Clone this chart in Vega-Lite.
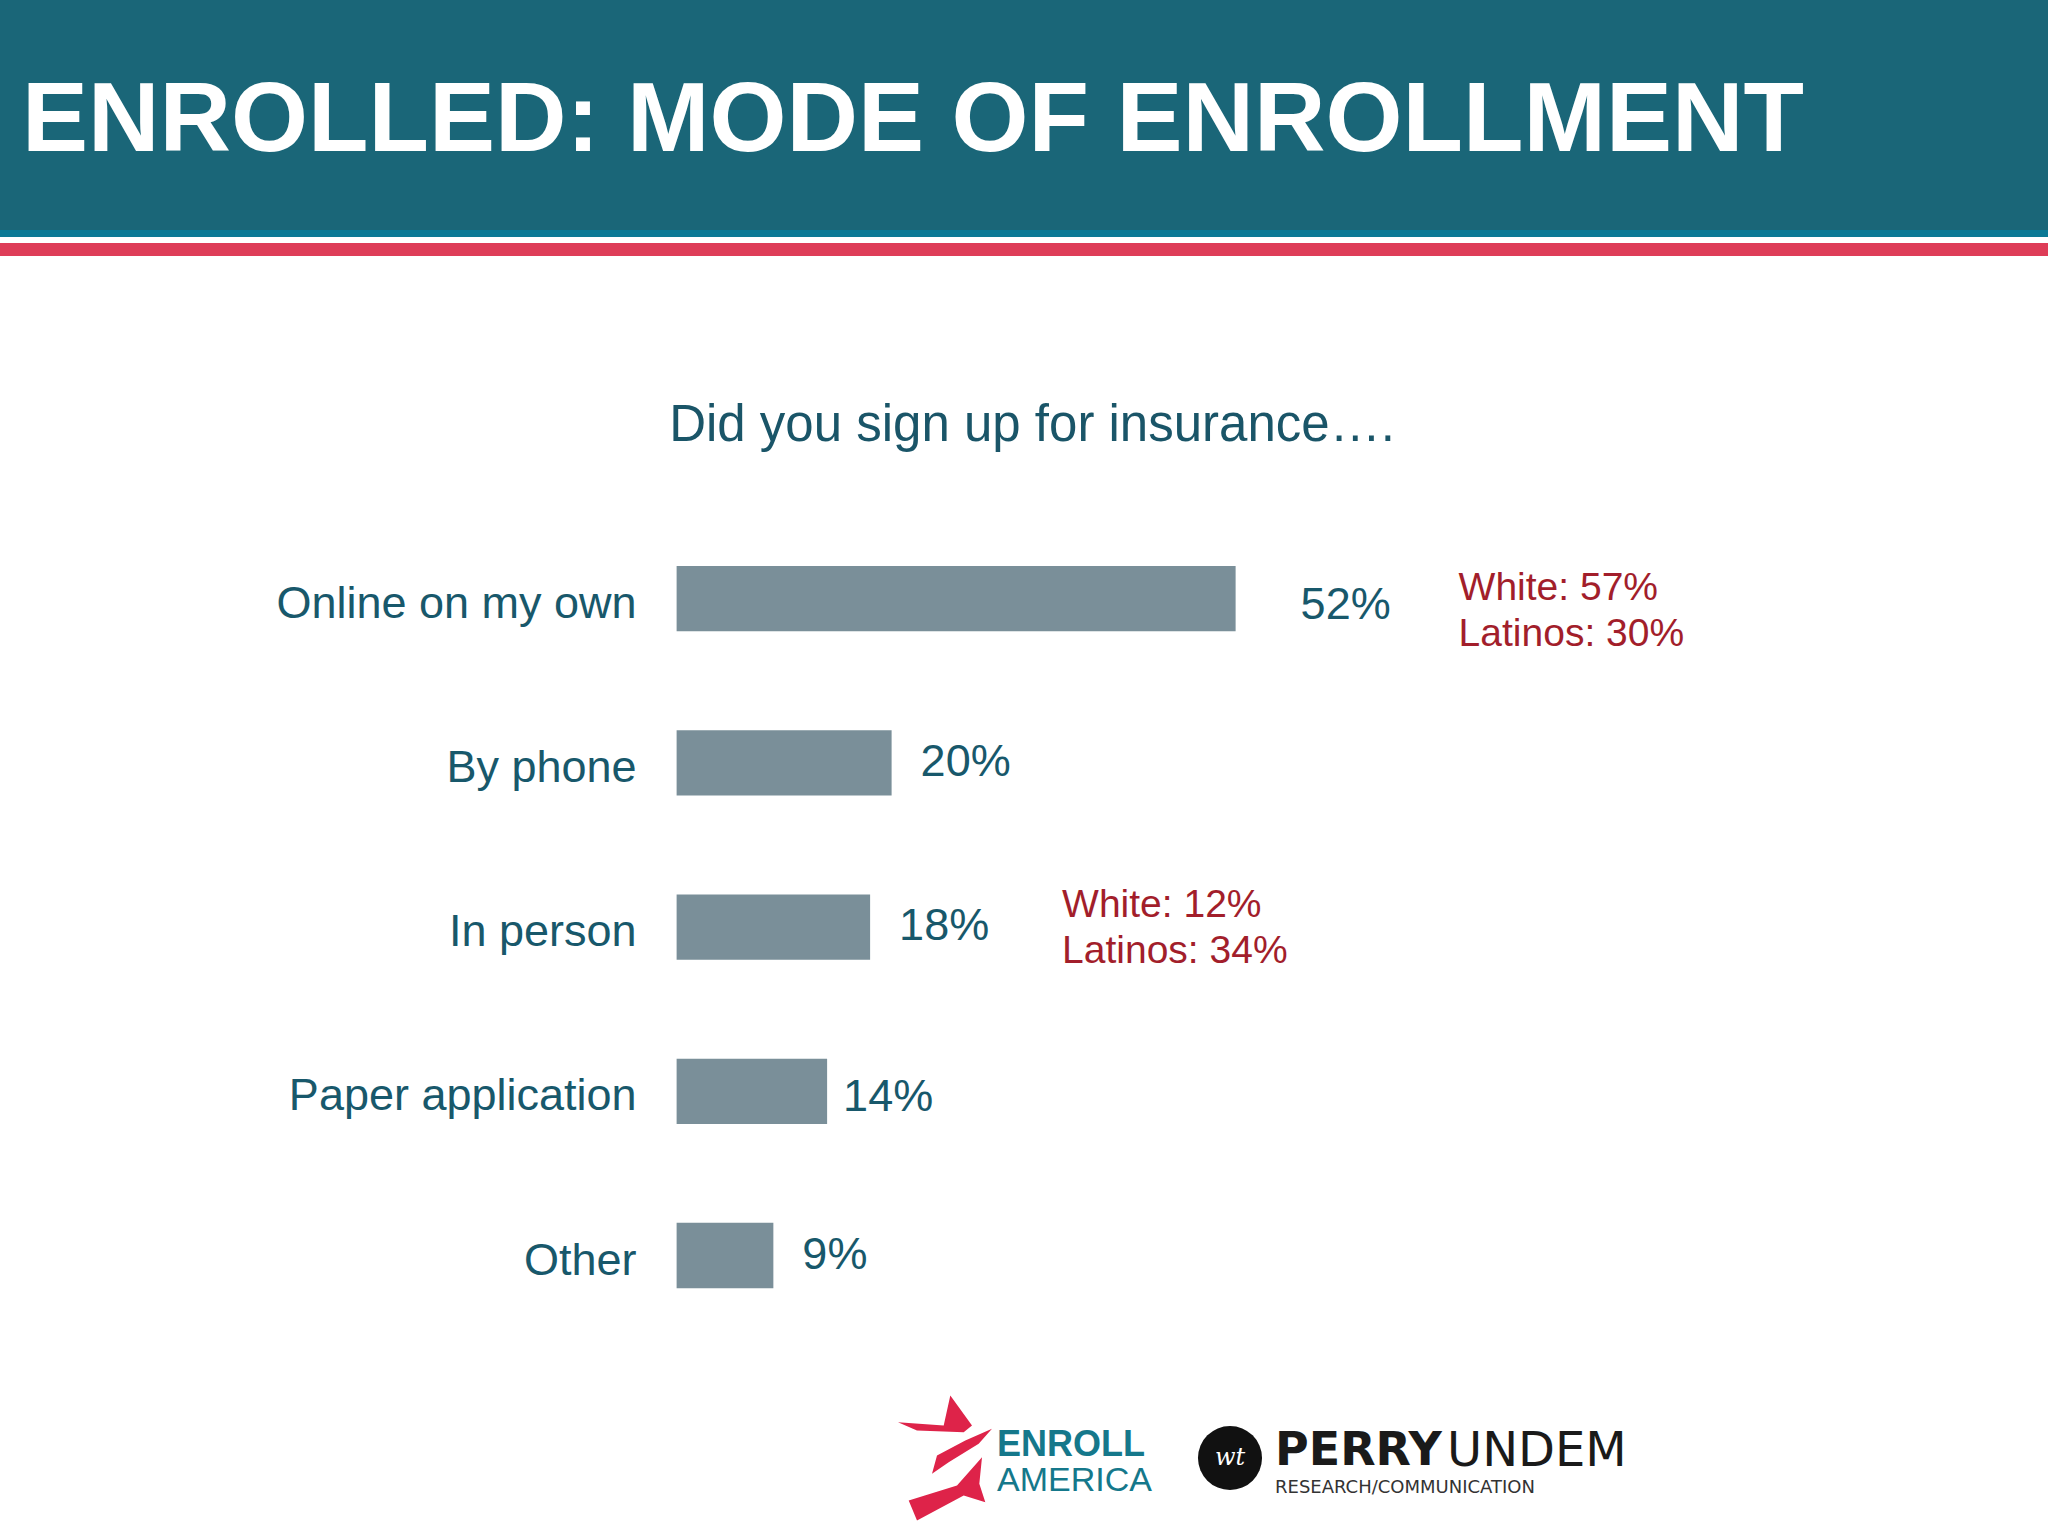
{
  "$schema": "https://vega.github.io/schema/vega-lite/v6.json",
  "background": "white",
  "padding": 0,
  "autosize": {"type": "pad"},
  "spacing": 0,
  "bounds": "flush",
  "config": {
    "view": {"stroke": null},
    "axis": {"disable": true},
    "font": "Liberation Sans"
  },
  "datasets": {
    "enroll": [
      {"cat": "Online on my own", "pct": 0.52, "note": "White: 57%\nLatinos: 30%"},
      {"cat": "By phone", "pct": 0.20, "note": ""},
      {"cat": "In person", "pct": 0.18, "note": "White: 12%\nLatinos: 34%"},
      {"cat": "Paper application", "pct": 0.14, "note": ""},
      {"cat": "Other", "pct": 0.09, "note": ""}
    ],
    "blank": [{}]
  },
  "vconcat": [
    {
      "width": 2048, "height": 230,
      "view": {"fill": "#1a6678"},
      "data": {"name": "blank"},
      "mark": {"type": "point", "opacity": 0},
      "encoding": {}
    },
    {
      "width": 2048, "height": 7,
      "view": {"fill": "#0b7995"},
      "title": {"text": "ENROLLED: MODE OF ENROLLMENT", "orient": "top", "anchor": "start", "frame": "group", "offset": 58, "dx": 22, "fontSize": 99, "font": "Liberation Sans", "fontWeight": "bold", "color": "#ffffff"},
      "data": {"name": "blank"},
      "mark": {"type": "point", "opacity": 0},
      "encoding": {}
    },
    {
      "width": 2048, "height": 6,
      "view": {"fill": "#ffffff"},
      "data": {"name": "blank"},
      "mark": {"type": "point", "opacity": 0},
      "encoding": {}
    },
    {
      "width": 2048, "height": 13,
      "view": {"fill": "#de3d58"},
      "data": {"name": "blank"},
      "mark": {"type": "point", "opacity": 0},
      "encoding": {}
    },
    {
      "width": 2048, "height": 309.5,
      "view": {"fill": "#ffffff"},
      "data": {"name": "blank"},
      "mark": {"type": "point", "opacity": 0},
      "encoding": {}
    },
    {
      "width": 2048, "height": 722.2,
      "title": {"text": "Did you sign up for insurance….", "orient": "top", "anchor": "middle", "frame": "group", "offset": 114.5, "dx": 8, "fontSize": 51, "font": "Liberation Sans", "fontWeight": "normal", "color": "#1a5568"},
      "data": {"name": "enroll"},
      "layer": [
        {
          "mark": {"type": "bar", "color": "#7a8f99"},
          "encoding": {
            "x": {"field": "pct", "type": "quantitative", "axis": null, "scale": {"domain": [-0.6294, 1.2757], "zero": false, "nice": false}},
            "x2": {"datum": 0},
            "y": {"field": "cat", "type": "nominal", "sort": null, "axis": null, "scale": {"paddingInner": 0.602, "paddingOuter": 0}}
          }
        },
        {
          "mark": {"type": "text", "align": "right", "baseline": "middle", "dx": -40, "dy": 5, "fontSize": 45, "font": "Liberation Sans", "color": "#18586b"},
          "encoding": {
            "x": {"datum": 0},
            "y": {"field": "cat", "type": "nominal", "sort": null, "axis": null},
            "text": {"field": "cat"}
          }
        },
        {
          "transform": [{"filter": "datum.cat === 'Online on my own'"}],
          "mark": {"type": "text", "align": "left", "baseline": "middle", "dx": 65, "dy": 6, "fontSize": 45, "font": "Liberation Sans", "color": "#18586b"},
          "encoding": {
            "x": {"field": "pct", "type": "quantitative"},
            "y": {"field": "cat", "type": "nominal", "sort": null, "axis": null},
            "text": {"field": "pct", "format": ".0%"}
          }
        },
        {
          "transform": [{"filter": "datum.cat === 'Paper application'"}],
          "mark": {"type": "text", "align": "left", "baseline": "middle", "dx": 16, "dy": 6, "fontSize": 45, "font": "Liberation Sans", "color": "#18586b"},
          "encoding": {
            "x": {"field": "pct", "type": "quantitative"},
            "y": {"field": "cat", "type": "nominal", "sort": null, "axis": null},
            "text": {"field": "pct", "format": ".0%"}
          }
        },
        {
          "transform": [{"filter": "datum.cat !== 'Online on my own' && datum.cat !== 'Paper application'"}],
          "mark": {"type": "text", "align": "left", "baseline": "middle", "dx": 29, "dy": -1, "fontSize": 45, "font": "Liberation Sans", "color": "#18586b"},
          "encoding": {
            "x": {"field": "pct", "type": "quantitative"},
            "y": {"field": "cat", "type": "nominal", "sort": null, "axis": null},
            "text": {"field": "pct", "format": ".0%"}
          }
        },
        {
          "transform": [{"filter": "datum.cat === 'Online on my own'"}],
          "mark": {"type": "text", "align": "left", "baseline": "middle", "lineBreak": "\n", "lineHeight": 46, "dx": 223, "dy": -11, "fontSize": 39, "font": "Liberation Sans", "color": "#a21e2b"},
          "encoding": {
            "x": {"field": "pct", "type": "quantitative"},
            "y": {"field": "cat", "type": "nominal", "sort": null, "axis": null},
            "text": {"field": "note"}
          }
        },
        {
          "transform": [{"filter": "datum.cat === 'In person'"}],
          "mark": {"type": "text", "align": "left", "baseline": "middle", "lineBreak": "\n", "lineHeight": 46, "dx": 192, "dy": -22, "fontSize": 39, "font": "Liberation Sans", "color": "#a21e2b"},
          "encoding": {
            "x": {"field": "pct", "type": "quantitative"},
            "y": {"field": "cat", "type": "nominal", "sort": null, "axis": null},
            "text": {"field": "note"}
          }
        }
      ]
    },
    {
      "width": 2048, "height": 103.8,
      "view": {"fill": "#ffffff"},
      "data": {"name": "blank"},
      "mark": {"type": "point", "opacity": 0},
      "encoding": {}
    },
    {
      "spacing": 0,
      "bounds": "flush",
      "hconcat": [
        {
          "width": 895, "height": 130,
          "data": {"name": "blank"},
          "mark": {"type": "point", "opacity": 0},
          "encoding": {}
        },
        {
          "width": 100, "height": 130,
          "data": {"name": "blank"},
          "mark": {"type": "point", "filled": true, "opacity": 1, "color": "#de2349", "size": 15625, "shape": "M -0.752 -0.573 L -0.021 -0.52 L 0.085 -1 L 0.432 -0.52 L 0.299 -0.413 L -0.448 -0.44 Z M 0.752 -0.467 L 0.539 -0.227 L 0.059 0.067 L -0.208 0.253 L -0.128 -0.04 L 0.325 -0.28 Z M -0.581 0.68 L 0.192 0.44 L 0.592 -0.013 L 0.549 0.413 L 0.645 0.707 L 0.299 0.6 L -0.448 1 Z"},
          "encoding": {}
        },
        {
          "width": 190, "height": 130,
          "title": {"text": "ENROLL", "subtitle": "AMERICA", "orient": "top", "anchor": "start", "frame": "group", "offset": -106, "dx": 2, "fontSize": 36, "font": "Liberation Sans", "fontWeight": "bold", "color": "#15788b", "subtitleFontSize": 34, "subtitleFont": "Liberation Sans", "subtitleFontWeight": "normal", "subtitleColor": "#15788b", "subtitlePadding": 0},
          "data": {"name": "blank"},
          "mark": {"type": "point", "opacity": 0},
          "encoding": {}
        },
        {
          "width": 90, "height": 130,
          "data": {"name": "blank"},
          "layer": [
            {"mark": {"type": "point", "filled": true, "opacity": 1, "color": "#111111", "size": 4100, "shape": "circle"}, "encoding": {}},
            {"mark": {"type": "text", "text": "wt", "font": "DejaVu Serif", "fontStyle": "italic", "fontSize": 24, "color": "#ffffff", "baseline": "middle", "align": "center"}, "encoding": {}}
          ]
        },
        {
          "width": 172, "height": 130,
          "title": {"text": "PERRY", "subtitle": "RESEARCH/COMMUNICATION", "orient": "top", "anchor": "start", "frame": "group", "offset": -105, "dx": 0, "fontSize": 46, "font": "DejaVu Sans", "fontWeight": "bold", "color": "#1a1a1a", "subtitleFontSize": 18, "subtitleFont": "DejaVu Sans", "subtitleFontWeight": "normal", "subtitleColor": "#333333", "subtitlePadding": 4},
          "data": {"name": "blank"},
          "mark": {"type": "point", "opacity": 0},
          "encoding": {}
        },
        {
          "width": 200, "height": 130,
          "title": {"text": "UNDEM", "orient": "top", "anchor": "start", "frame": "group", "offset": -83.4, "dx": 0, "fontSize": 48, "font": "DejaVu Sans", "fontWeight": "normal", "color": "#1a1a1a"},
          "data": {"name": "blank"},
          "mark": {"type": "point", "opacity": 0},
          "encoding": {}
        }
      ]
    }
  ]
}
